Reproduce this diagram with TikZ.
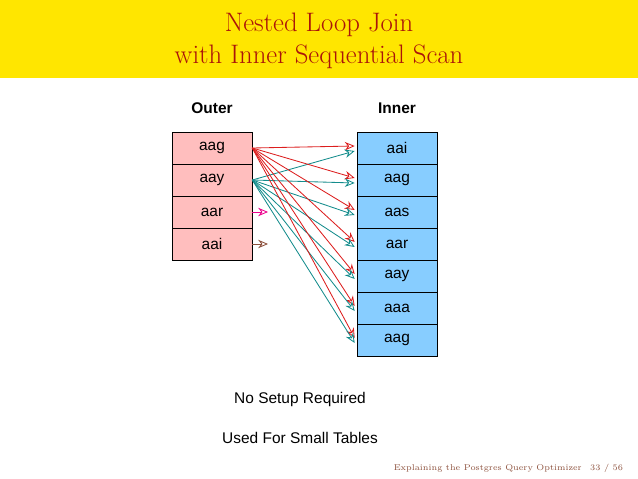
\documentclass[tikz,border=0pt]{standalone}
\usepackage{fontspec}
\setsansfont{Liberation Sans}
\usetikzlibrary{arrows.meta}
\definecolor{titlered}{RGB}{170,20,10}
\definecolor{bandyellow}{RGB}{255,230,0}
\definecolor{outerpink}{RGB}{255,190,190}
\definecolor{innerblue}{RGB}{135,205,255}
\definecolor{joinred}{RGB}{220,30,30}
\definecolor{jointeal}{RGB}{20,140,140}
\definecolor{footgray}{RGB}{140,80,60}
\tikzset{
  cell/.style={draw, minimum width=2cm, minimum height=0.8cm, inner sep=0pt,
    font=\sffamily\fontsize{11}{13}\selectfont},
  outercell/.style={cell, fill=outerpink},
  innercell/.style={cell, fill=innerblue},
  joinarrow/.style={-{Stealth[length=7pt,width=6pt,open]}, semithick},
}
\begin{document}
\begin{tikzpicture}[x=0.025cm,y=-0.025cm]
\useasboundingbox (0,0) rectangle (638,479);
% title band
\fill[bandyellow] (0,0) rectangle (638,78);
\node[titlered, align=center, font=\fontsize{19}{23}\selectfont] (title) at (319,41)
  {Nested Loop Join\\with Inner Sequential Scan};
% column heads
\node[font=\sffamily\bfseries\fontsize{11}{13}\selectfont] (outerhead) at (212,108) {Outer};
\node[font=\sffamily\bfseries\fontsize{11}{13}\selectfont] (innerhead) at (397,108) {Inner};
% outer relation
\foreach \t [count=\k] in {aag,aay,aar,aai}
  \node[outercell] (o\k) at (212,{148+32*(\k-1)}) {\t};
% inner relation
\foreach \t [count=\k] in {aai,aag,aas,aar,aay,aaa,aag}
  \node[innercell] (i\k) at (397,{148+32*(\k-1)}) {\t};
% join arrows
\foreach \k in {1,...,7} {
  \draw[joinarrow, joinred] (o1.east) -- ([shift={(-2,-2)}]i\k.west);
  \draw[joinarrow, jointeal] (o2.east) -- ([shift={(-2,3)}]i\k.west);
}
\coordinate (o3end) at (268,212);
\coordinate (o4end) at (268,244);
\draw[joinarrow, magenta] (o3.east) -- (o3end);
\draw[joinarrow, footgray] (o4.east) -- (o4end);
% notes
\node[font=\sffamily\fontsize{11}{13}\selectfont] (setup) at (300,399) {No Setup Required};
\node[font=\sffamily\fontsize{11}{13}\selectfont] (small) at (300,438) {Used For Small Tables};
\node[anchor=east, footgray, font=\fontsize{6}{7}\selectfont] (foot) at (628,468)
  {Explaining the Postgres Query Optimizer\quad 33 / 56};
\end{tikzpicture}
\end{document}
